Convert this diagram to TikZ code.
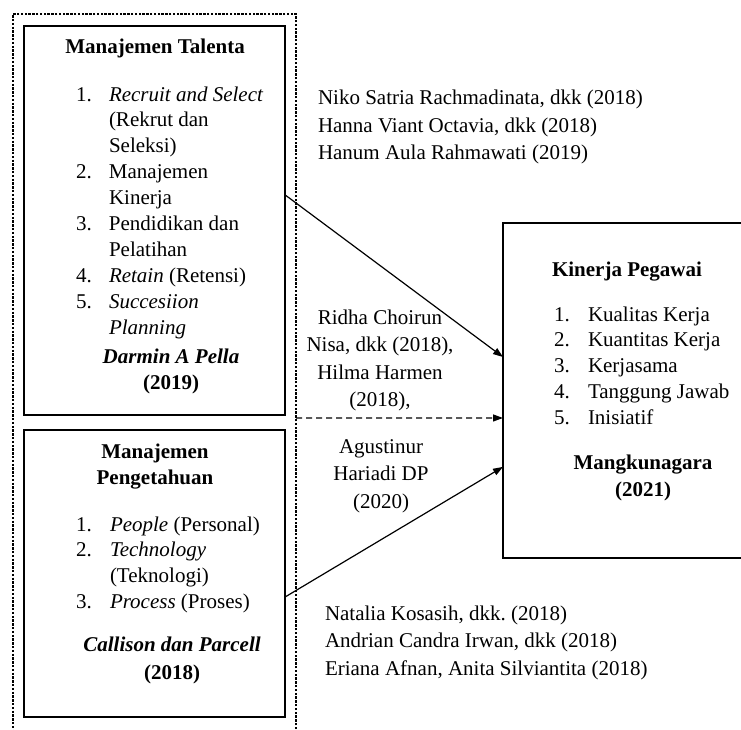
\documentclass[tikz,border=0pt]{standalone}
\usepackage{fontspec}
\setmainfont{Liberation Serif}
\usetikzlibrary{arrows.meta,calc}
\frenchspacing
\begin{document}
\begin{tikzpicture}[x=1pt,y=-1pt,
  box/.style={draw,line width=2.8pt,rectangle,inner sep=0pt,outer sep=0pt,anchor=north west},
  txt/.style={font=\fontsize{21}{25.9}\selectfont,inner sep=0pt,outer sep=0pt},
  boldtxt/.style={font=\fontsize{21}{26}\selectfont\bfseries,inner sep=0pt,outer sep=0pt,anchor=base},
  cite/.style={font=\fontsize{21}{27.5}\selectfont,inner sep=0pt,outer sep=0pt},
  link/.style={line width=1.2pt,-{Triangle[length=10pt,width=7pt]}}]
\useasboundingbox (0,0) rectangle (741,729);
% dotted frame
\node[draw,line width=2.8pt,dash pattern=on 2.4pt off 1.4pt,rectangle,inner sep=0pt,outer sep=0pt,
      anchor=north west,minimum width=283pt,minimum height=740pt] (outer) at (13,14) {};
% boxes
\node[box,minimum width=261pt,minimum height=389pt] (tal) at (24,26) {};
\node[box,minimum width=261pt,minimum height=287pt] (pen) at (24,430) {};
\node[box,minimum width=262pt,minimum height=335pt] (kin) at (503,223) {};
% Manajemen Talenta
\node[boldtxt] (taltitle) at (155,53) {Manajemen Talenta};
\node[txt,anchor=base west] (tallist) at (76,101) {\begin{tabular}[t]{@{}p{33pt}@{}l@{}}
1. & \textit{Recruit and Select}\\
   & (Rekrut dan\\
   & Seleksi)\\
2. & Manajemen\\
   & Kinerja\\
3. & Pendidikan dan\\
   & Pelatihan\\
4. & \textit{Retain} (Retensi)\\
5. & \textit{Succesiion}\\
   & \textit{Planning}
\end{tabular}};
\node[boldtxt] (talauth) at (171,363) {\begin{tabular}[t]{@{}c@{}}\textit{Darmin A Pella}\\(2019)\end{tabular}};
% Manajemen Pengetahuan
\node[boldtxt] (pentitle) at (155,458) {\begin{tabular}[t]{@{}c@{}}Manajemen\\Pengetahuan\end{tabular}};
\node[txt,anchor=base west] (penlist) at (76,531) {\begin{tabular}[t]{@{}p{34pt}@{}l@{}}
1. & \textit{People} (Personal)\\
2. & \textit{Technology}\\
   & (Teknologi)\\
3. & \textit{Process} (Proses)
\end{tabular}};
\node[boldtxt] (penauth) at (172,651) {\begin{tabular}[t]{@{}c@{}}\textit{Callison dan Parcell}\\[2pt](2018)\end{tabular}};
% Kinerja Pegawai
\node[boldtxt] (kintitle) at (627,276) {Kinerja Pegawai};
\node[txt,anchor=base west] (kinlist) at (554,321) {\begin{tabular}[t]{@{}p{34pt}@{}l@{}}
1. & Kualitas Kerja\\
2. & Kuantitas Kerja\\
3. & Kerjasama\\
4. & Tanggung Jawab\\
5. & Inisiatif
\end{tabular}};
\node[boldtxt] (kinauth) at (643,469) {\begin{tabular}[t]{@{}c@{}}Mangkunagara\\[1pt](2021)\end{tabular}};
% citations
\node[cite,anchor=base west] (citetop) at (318,104.5) {\begin{tabular}[t]{@{}l@{}}
Niko Satria Rachmadinata, dkk (2018)\\
Hanna Viant Octavia, dkk (2018)\\
Hanum Aula Rahmawati (2019)
\end{tabular}};
\node[cite,anchor=base] (citemid) at (380,324) {\begin{tabular}[t]{@{}c@{}}
Ridha Choirun\\
Nisa, dkk (2018),\\
Hilma Harmen\\
(2018),
\end{tabular}};
\node[cite,anchor=base] (citemid2) at (381,453) {\begin{tabular}[t]{@{}c@{}}
Agustinur\\
Hariadi DP\\
(2020)
\end{tabular}};
\node[cite,anchor=base west] (citebot) at (325,620) {\begin{tabular}[t]{@{}l@{}}
Natalia Kosasih, dkk. (2018)\\
Andrian Candra Irwan, dkk (2018)\\
Eriana Afnan, Anita Silviantita (2018)
\end{tabular}};
% connectors
\coordinate (a1s) at ($(tal.north east)!0.434!(tal.south east)$);
\coordinate (a1e) at ($(kin.north west)!0.4!(kin.south west)$);
\coordinate (a2s) at ($(outer.north east)!0.546!(outer.south east)$);
\coordinate (a2e) at ($(kin.north west)!0.582!(kin.south west)$);
\coordinate (a3s) at ($(pen.north east)!0.582!(pen.south east)$);
\coordinate (a3e) at ($(kin.north west)!0.728!(kin.south west)$);
\draw[link] (a1s) -- (a1e);
\draw[link,dash pattern=on 6pt off 4pt] (a2s) -- (a2e);
\draw[link] (a3s) -- (a3e);
\end{tikzpicture}
\end{document}
